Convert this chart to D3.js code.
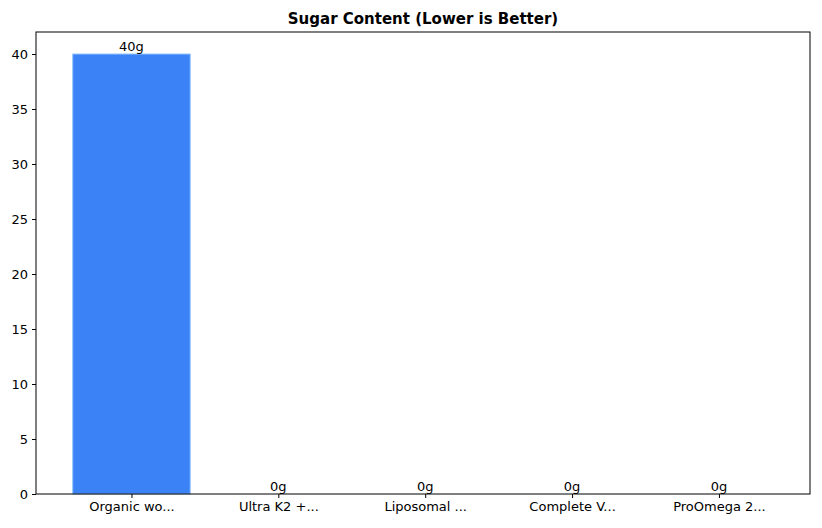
<!DOCTYPE html>
<html><head><meta charset="utf-8">
<script src="https://cdn.jsdelivr.net/npm/d3@7"></script>
<style>body{margin:0;background:#fff}text{font-family:"DejaVu Sans",sans-serif}</style>
</head><body>
<svg id="c" width="822" height="528"></svg>
<script>
const categories = ["Organic wo...", "Ultra K2 +...", "Liposomal ...", "Complete V...", "ProOmega 2..."];
const sugar = [40, 0, 0, 0, 0];
const valueLabels = ["40g", "0g", "0g", "0g", "0g"];
const yTicks = [0, 5, 10, 15, 20, 25, 30, 35, 40];

const svg = d3.select("#c");
const L = 36, R = 810, T = 32, B = 494;
const x = d3.scaleLinear().domain([-0.65, 4.62]).range([L, R]);
const y = d3.scaleLinear().domain([0, 42]).range([B, T]);
const bw = 0.8;

svg.append("g").selectAll("rect").data(sugar).join("rect")
  .attr("x", (d, i) => x(i - bw / 2)).attr("width", x(bw) - x(0))
  .attr("y", d => y(d)).attr("height", d => y(0) - y(d))
  .attr("fill", "#3b82f6").attr("stroke", "#93c5fd").attr("stroke-width", 1);

svg.append("g").selectAll("text").data(sugar).join("text")
  .attr("x", (d, i) => x(i)).attr("y", d => y(d) - 3)
  .attr("text-anchor", "middle").attr("font-size", 13).text((d, i) => valueLabels[i]);

const ya = svg.append("g").attr("transform", `translate(${L},0)`)
  .call(d3.axisLeft(y).tickValues(yTicks).tickSize(4).tickPadding(4));
const xa = svg.append("g").attr("transform", `translate(0,${B})`)
  .call(d3.axisBottom(x).tickValues(d3.range(categories.length)).tickFormat(i => categories[i]).tickSize(4).tickPadding(4));
[ya, xa].forEach(a => { a.selectAll("text").attr("font-size", 13).attr("fill", "#000"); a.select(".domain").remove(); });

svg.append("rect").attr("x", L).attr("y", T).attr("width", R - L).attr("height", B - T)
  .attr("fill", "none").attr("stroke", "#000").attr("stroke-width", 1);

svg.append("text").attr("x", (L + R) / 2).attr("y", T - 8).attr("text-anchor", "middle")
  .attr("font-size", 15).attr("font-weight", "bold").text("Sugar Content (Lower is Better)");
</script>
</body></html>
